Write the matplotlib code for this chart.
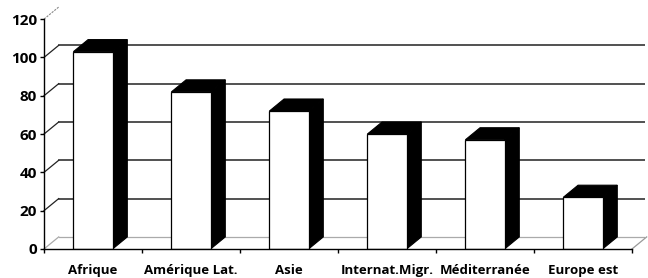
import matplotlib
matplotlib.use("Agg")
import matplotlib.pyplot as plt
from matplotlib.patches import Polygon, Rectangle

# data
categories = ["Afrique", "Amérique Lat.", "Asie", "Internat.Migr.", "Méditerranée", "Europe est"]
values = [103, 82, 72, 60, 57, 27]
yticks = [0, 20, 40, 60, 80, 100, 120]

# fake 3-D depth, in data units
dx = 0.15
dy = 6.3
bar_w = 0.4

plt.rcParams["font.family"] = ["Open Sans", "DejaVu Sans"]

fig = plt.figure(figsize=(6.48, 2.78), dpi=100)
ax = fig.add_axes([44 / 648, 29 / 278, 601 / 648, 241 / 278])
ax.set_xlim(0, 6.133)
ax.set_ylim(0, 125.8)

# back wall gridlines + the slanted links to the value axis
for v in yticks[1:-1]:
    ax.plot([dx, 6 + dx], [v + dy, v + dy], color="#333333", lw=1.2, zorder=1)
    ax.plot([0, dx], [v, v + dy], color="#222222", lw=0.9, zorder=1, clip_on=False)
ax.plot([0, dx], [120, 120 + dy], color="#888888", lw=0.8, ls=(0, (2, 1)), zorder=1, clip_on=False)

# floor outline
ax.plot([0, dx], [0, dy], color="#aaaaaa", lw=0.9, zorder=1, clip_on=False)
ax.plot([dx, 6 + dx], [dy, dy], color="#aaaaaa", lw=0.9, zorder=1)
ax.plot([6, 6 + dx], [0, dy], color="#999999", lw=0.9, zorder=1, clip_on=False)

# bars
for i, v in enumerate(values):
    x0 = i + 0.5 - bar_w / 2
    x1 = x0 + bar_w
    side = Polygon([(x1, 0), (x1 + dx, dy), (x1 + dx, v + dy), (x1, v)],
                   closed=True, facecolor="black", edgecolor="black", lw=0.8, zorder=3)
    top = Polygon([(x0, v), (x0 + dx, v + dy), (x1 + dx, v + dy), (x1, v)],
                  closed=True, facecolor="black", edgecolor="black", lw=0.8, zorder=3)
    front = Rectangle((x0, 0), bar_w, v, facecolor="white", edgecolor="black", lw=0.9, zorder=4)
    ax.add_patch(side)
    ax.add_patch(top)
    ax.add_patch(front)

# axes
for s in ["top", "right"]:
    ax.spines[s].set_visible(False)
ax.spines["left"].set_bounds(0, 120)
ax.spines["bottom"].set_bounds(0, 6)
ax.spines["left"].set_linewidth(1.0)
ax.spines["bottom"].set_linewidth(1.0)
ax.spines["left"].set_zorder(5)
ax.spines["bottom"].set_zorder(5)

ax.set_yticks(yticks)
ax.set_yticklabels([str(t) for t in yticks], fontsize=11, fontweight="bold")
ax.tick_params(axis="y", direction="out", length=3, width=1, pad=2)

ax.set_xticks([i + 0.5 for i in range(len(categories))])
ax.set_xticklabels(categories, fontsize=9.5, fontweight="bold")
ax.set_xticks(range(len(categories) + 1), minor=True)
ax.tick_params(axis="x", which="major", length=0, pad=11)
ax.tick_params(axis="x", which="minor", direction="out", length=3, width=1)

fig.savefig("out.png", dpi=100)
